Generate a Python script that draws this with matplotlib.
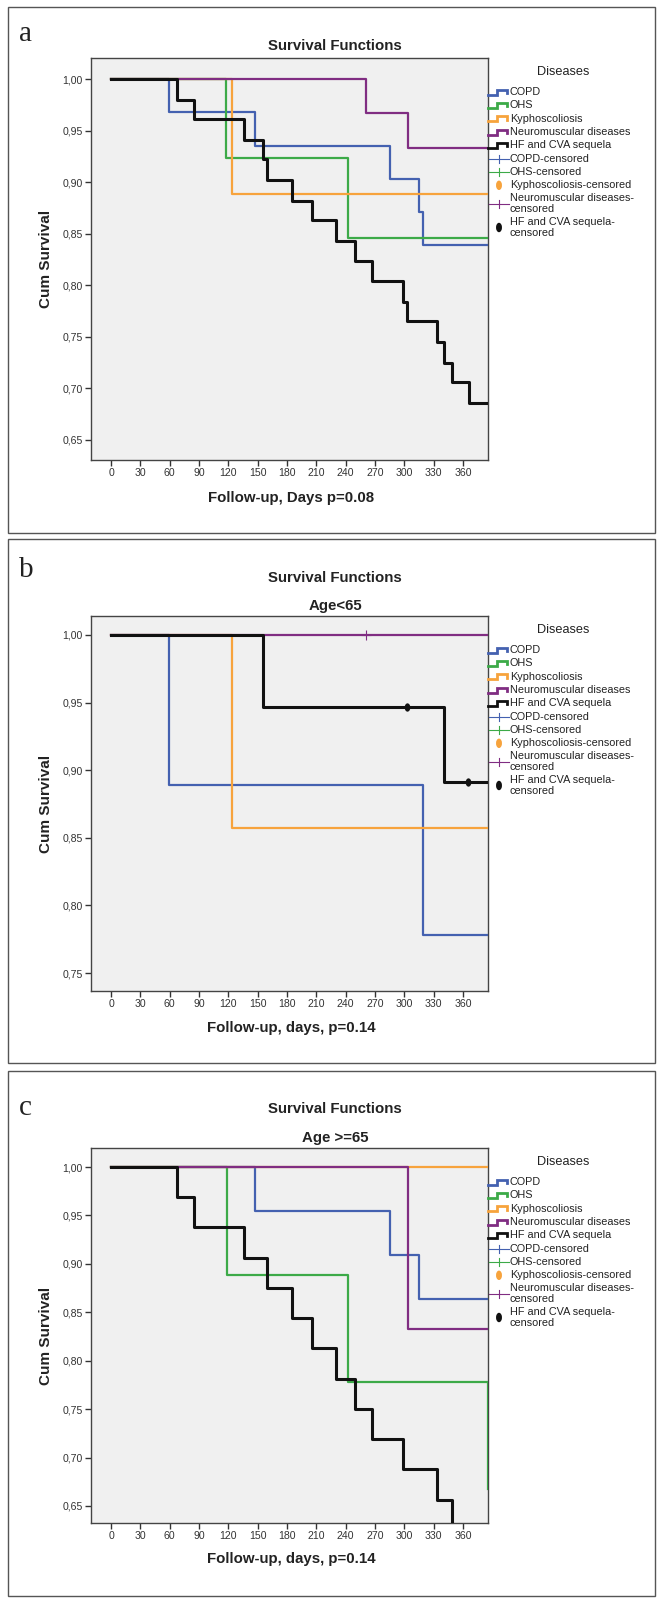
import numpy as np
import matplotlib
matplotlib.use("Agg")
import matplotlib.pyplot as plt
from matplotlib.lines import Line2D
from matplotlib.patches import Rectangle, Ellipse
from matplotlib.path import Path
from matplotlib.transforms import Affine2D

W, H = 665, 1605

# ---- data (days, cumulative survival after each step) ----
A_COPD_T = [59, 147, 285, 315, 319]
A_COPD_S = [0.968, 0.935, 0.903, 0.871, 0.839]
A_OHS_T = [118, 242]
A_OHS_S = [0.923, 0.846]
A_KYPH_T = [124]
A_KYPH_S = [0.889]
A_NEURO_T = [261, 304]
A_NEURO_S = [0.967, 0.933]
A_HF_T = [67, 85, 136, 155, 159, 185, 205, 230, 249, 267, 299, 303, 333, 340, 349, 366]
A_HF_S = [0.980, 0.961, 0.941, 0.922, 0.902, 0.882, 0.863, 0.843, 0.824, 0.804,
          0.784, 0.765, 0.745, 0.725, 0.706, 0.686]

B_COPD_T = [59, 319]
B_COPD_S = [0.889, 0.778]
B_KYPH_T = [124]
B_KYPH_S = [0.857]
B_NEURO_T = []
B_NEURO_S = []
B_HF_T = [155, 341]
B_HF_S = [0.947, 0.891]
B_NEURO_CENS_T = [261]
B_NEURO_CENS_S = [1.0]
B_HF_CENS_T = [303, 365]
B_HF_CENS_S = [0.947, 0.891]

C_COPD_T = [147, 285, 315]
C_COPD_S = [0.955, 0.909, 0.864]
C_OHS_T = [119, 242, 385]
C_OHS_S = [0.889, 0.778, 0.667]
C_KYPH_T = []
C_KYPH_S = []
C_NEURO_T = [304]
C_NEURO_S = [0.833]
C_HF_T = [67, 85, 136, 159, 185, 205, 230, 249, 267, 299, 333, 349]
C_HF_S = [0.969, 0.938, 0.906, 0.875, 0.844, 0.813, 0.781, 0.750, 0.719, 0.688, 0.656, 0.625]

END_DAY = 386
X_TICKS = list(range(0, 361, 30))

GROUPS = ["COPD", "OHS", "Kyphoscoliosis", "Neuromuscular diseases", "HF and CVA sequela"]
COLORS = {"COPD": "#4461b0", "OHS": "#3caa48", "Kyphoscoliosis": "#f7a33c",
          "Neuromuscular diseases": "#802d82", "HF and CVA sequela": "#111111"}

PANEL_A = {"COPD": (A_COPD_T, A_COPD_S), "OHS": (A_OHS_T, A_OHS_S),
           "Kyphoscoliosis": (A_KYPH_T, A_KYPH_S),
           "Neuromuscular diseases": (A_NEURO_T, A_NEURO_S),
           "HF and CVA sequela": (A_HF_T, A_HF_S)}
PANEL_B = {"COPD": (B_COPD_T, B_COPD_S),
           "Kyphoscoliosis": (B_KYPH_T, B_KYPH_S),
           "Neuromuscular diseases": (B_NEURO_T, B_NEURO_S),
           "HF and CVA sequela": (B_HF_T, B_HF_S)}
PANEL_C = {"COPD": (C_COPD_T, C_COPD_S), "OHS": (C_OHS_T, C_OHS_S),
           "Kyphoscoliosis": (C_KYPH_T, C_KYPH_S),
           "Neuromuscular diseases": (C_NEURO_T, C_NEURO_S),
           "HF and CVA sequela": (C_HF_T, C_HF_S)}
CENSORED_B = [("Neuromuscular diseases", B_NEURO_CENS_T, B_NEURO_CENS_S),
              ("HF and CVA sequela", B_HF_CENS_T, B_HF_CENS_S)]

SANS = ["Liberation Sans", "DejaVu Sans"]
SERIF = ["Liberation Serif", "DejaVu Serif"]


def fx(x):
    return x / W


def fy(y):
    return 1 - y / H


ELLIPSE = Path.unit_circle().transformed(Affine2D().scale(0.6, 1.0))


def draw_legend(fig, y0):
    fig.text(fx(563), fy(y0), "Diseases", ha="center", va="center",
             fontsize=9.2, family=SANS, color="#222")
    offs = [20, 33.3, 46.6, 60, 73.3]
    for name, off in zip(GROUPS, offs):
        y = y0 + off
        xs = [488, 497, 497, 507, 507]
        ys = [y + 2.5, y + 2.5, y - 2.5, y - 2.5, y + 1]
        fig.add_artist(Line2D([fx(v) for v in xs], [fy(v) for v in ys],
                              color=COLORS[name], lw=2.0, transform=fig.transFigure,
                              solid_joinstyle="miter"))
        fig.text(fx(510), fy(y), name, ha="left", va="center", fontsize=7.8,
                 family=SANS, color="#222")
    cens = [("COPD", "COPD-censored", 86.6, "+"),
            ("OHS", "OHS-censored", 100, "+"),
            ("Kyphoscoliosis", "Kyphoscoliosis-censored", 113.3, "o"),
            ("Neuromuscular diseases", "Neuromuscular diseases-\ncensored", 131.5, "+"),
            ("HF and CVA sequela", "HF and CVA sequela-\ncensored", 155.5, "o")]
    for name, label, off, kind in cens:
        y = y0 + off
        c = COLORS[name]
        if kind == "+":
            fig.add_artist(Line2D([fx(489), fx(509)], [fy(y), fy(y)], color=c, lw=0.8,
                                  transform=fig.transFigure))
            fig.add_artist(Line2D([fx(499), fx(499)], [fy(y - 4), fy(y + 4)], color=c,
                                  lw=0.8, transform=fig.transFigure))
        else:
            fig.add_artist(Ellipse((fx(499), fy(y)), 4.5 / W, 8 / H, color=c,
                                   transform=fig.transFigure))
        fig.text(fx(510), fy(y), label, ha="left", va="center", fontsize=7.8,
                 family=SANS, color="#222", linespacing=1.1)


def draw_panel(fig, box, letter, label_y, title_y, sub, sub_y, ax_top, ax_bot,
               ylim, yticks, xlabel, xlabel_y, series, censored, leg_y):
    fig.add_artist(Rectangle((fx(8), fy(box[1])), (655 - 8) / W, (box[1] - box[0]) / H,
                             fill=False, edgecolor="#555", lw=1.0,
                             transform=fig.transFigure))
    fig.text(fx(19), fy(label_y), letter, ha="left", va="center", fontsize=21,
             family=SERIF, color="#222")
    fig.text(fx(335), fy(title_y), "Survival Functions", ha="center", va="center",
             fontsize=10.8, fontweight="bold", family=SANS, color="#222")
    if sub:
        fig.text(fx(335), fy(sub_y), sub, ha="center", va="center",
                 fontsize=10.8, fontweight="bold", family=SANS, color="#222")

    ax = fig.add_axes([fx(91), fy(ax_bot), (488 - 91) / W, (ax_bot - ax_top) / H])
    ax.set_facecolor("#f0f0f0")
    for name in GROUPS:
        if name not in series:
            continue
        t, s = series[name]
        xs = [0] + list(t) + [END_DAY]
        ys = [1.0] + list(s) + [s[-1] if len(s) else 1.0]
        lw = 2.2 if name == "HF and CVA sequela" else 1.6
        ax.step(xs, ys, where="post", color=COLORS[name], lw=lw, zorder=3)
    for name, t, s in censored:
        if name == "HF and CVA sequela":
            ax.plot(t, s, ls="none", marker=ELLIPSE, ms=5, color=COLORS[name], zorder=4)
        else:
            ax.plot(t, s, ls="none", marker="+", ms=7, mew=0.8, color=COLORS[name],
                    zorder=4)
    ax.set_xlim(-20.5, 385.5)
    ax.set_ylim(*ylim)
    ax.set_xticks(X_TICKS)
    ax.set_xticklabels([str(v) for v in X_TICKS])
    ax.set_yticks(yticks)
    ax.set_yticklabels([f"{v:.2f}".replace(".", ",") for v in yticks])
    ax.tick_params(direction="out", length=4.5, width=1, color="#333",
                   labelsize=7.6, labelcolor="#333", pad=1.5)
    for lab in ax.get_xticklabels() + ax.get_yticklabels():
        lab.set_family(SANS)
    for sp in ax.spines.values():
        sp.set_color("#444")
        sp.set_linewidth(1.0)

    fig.text(fx(291), fy(xlabel_y), xlabel, ha="center", va="center",
             fontsize=10.8, fontweight="bold", family=SANS, color="#222")
    fig.text(fx(46), fy((ax_top + ax_bot) / 2), "Cum Survival", ha="center",
             va="center", rotation=90, fontsize=11, fontweight="bold",
             family=SANS, color="#222")
    draw_legend(fig, leg_y)
    return ax


fig = plt.figure(figsize=(W / 100, H / 100), dpi=100)

draw_panel(fig, (7, 533), "a", 34, 46, None, None, 58, 460, (0.6306, 1.0204),
           [0.65, 0.70, 0.75, 0.80, 0.85, 0.90, 0.95, 1.00],
           "Follow-up, Days p=0.08", 498, PANEL_A, [], 72)
draw_panel(fig, (539, 1063), "b", 570, 578, "Age<65", 606, 616, 991, (0.7367, 1.014),
           [0.75, 0.80, 0.85, 0.90, 0.95, 1.00],
           "Follow-up, days, p=0.14", 1028, PANEL_B, CENSORED_B, 630)
draw_panel(fig, (1071, 1596), "c", 1108, 1109, "Age >=65", 1138, 1148, 1523,
           (0.6324, 1.0197), [0.65, 0.70, 0.75, 0.80, 0.85, 0.90, 0.95, 1.00],
           "Follow-up, days, p=0.14", 1559, PANEL_C, [], 1162)

fig.savefig("out.png", dpi=100)
